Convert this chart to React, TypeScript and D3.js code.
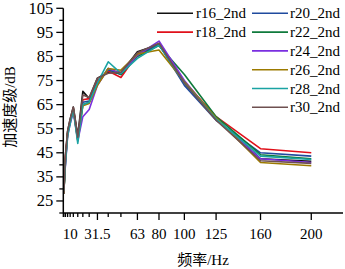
import React from "react";
import * as d3 from "d3";

const freqs = [5, 6.3, 8, 10, 12.5, 16, 20, 25, 31.5, 40, 50, 63, 80, 100, 125, 160, 200];
const tickFreqs = [4.6, 5, 6.3, 8, 10, 12.5, 16, 20, 25, 31.5, 40, 50, 63, 80, 100, 125, 160, 200];
const labeledTicks = [10, 31.5, 63, 80, 100, 125, 160, 200];
const yMajorTicks = [25, 35, 45, 55, 65, 75, 85, 95, 105];
const yMinorTicks = [20, 30, 40, 50, 60, 70, 80, 90, 100];

const seriesNames = ["r16_2nd", "r18_2nd", "r20_2nd", "r22_2nd", "r24_2nd", "r26_2nd", "r28_2nd", "r30_2nd"];
const seriesColors = ["#111111", "#e0101a", "#1f4a9e", "#0f7a3c", "#7a2fe0", "#9c7a00", "#1aa3a3", "#6e5050"];

const r16 = [28, 44, 54, 59, 64, 52, 70.5, 67.5, 76, 78.5, 78, 87, 90, 74, 59, 42.5, 41.5];
const r18 = [29, 43, 53, 58, 63.5, 51, 67, 67.5, 75, 79, 76.3, 86, 90, 74.5, 60, 46.7, 45];
const r20 = [28, 42, 53, 58, 63, 51, 66, 66.5, 74, 79.5, 77.5, 85.5, 90, 73, 58.5, 45, 43.6];
const r22 = [29, 41, 53, 58, 63, 50.5, 65, 66, 73.5, 80, 77.5, 85, 89.5, 77.5, 60, 44.2, 42.5];
const r24 = [31, 40, 52, 57, 62, 50, 60, 63, 73, 80, 78, 85.5, 91.4, 75, 59, 42.5, 41];
const r26 = [28, 42, 53, 58, 63, 50, 64.5, 65.5, 73, 80, 79.3, 86, 87.7, 74.5, 59.5, 41, 39.6];
const r28 = [29, 41, 52, 57, 63, 48.9, 65, 66, 74, 82.8, 78, 84.2, 89.7, 74, 59, 43.6, 42.2];
const r30 = [28, 44, 54, 59, 64, 51.5, 69, 68, 76, 78, 78.5, 86.5, 90.5, 74, 58.5, 41.7, 40.6];
const seriesValues = [r16, r18, r20, r22, r24, r26, r28, r30];

const W = 345;
const H = 269;
const FONT = "'Liberation Serif', 'Times New Roman', 'Noto Sans CJK SC', serif";

export default function App() {
  const x = d3.scaleLinear().domain([4.6, 225]).range([63.3, 343]);
  const y = d3.scaleLinear().domain([20, 105]).range([213, 8.3]);
  const line = d3
    .line<number>()
    .x((_, i) => x(freqs[i]))
    .y((d) => y(d));

  const axisY = y(20);
  const axisX = x(4.6);

  const legendCols = [
    { lx: 157, tx: 196, items: [0, 1] },
    { lx: 252, tx: 290, items: [2, 3, 4, 5, 6, 7] },
  ];

  return (
    <svg width={W} height={H} style={{ position: "absolute", left: 0, top: 0, background: "#fff" }} fontFamily={FONT}>
      {/* series */}
      {seriesValues.map((vals, si) => (
        <path key={si} d={line(vals) || ""} fill="none" stroke={seriesColors[si]} strokeWidth={1.6} strokeLinejoin="round" />
      ))}

      {/* axes */}
      <line x1={axisX} x2={axisX} y1={axisY} y2={y(105)} stroke="#000" strokeWidth={1.5} />
      <line x1={axisX} x2={343} y1={axisY} y2={axisY} stroke="#000" strokeWidth={1.5} />

      {yMajorTicks.map((t) => (
        <g key={"ym" + t}>
          <line x1={axisX - 7} x2={axisX} y1={y(t)} y2={y(t)} stroke="#000" strokeWidth={1.3} />
          <text x={axisX - 10} y={y(t) + 5.5} textAnchor="end" fontSize={16.5}>
            {t}
          </text>
        </g>
      ))}
      {yMinorTicks.map((t) => (
        <line key={"yn" + t} x1={axisX - 4} x2={axisX} y1={y(t)} y2={y(t)} stroke="#000" strokeWidth={1.3} />
      ))}

      {tickFreqs.map((f) => {
        const major = labeledTicks.includes(f) && f !== 10;
        return (
          <line key={"xt" + f} x1={x(f)} x2={x(f)} y1={axisY} y2={axisY + (major ? 7 : 4)} stroke="#000" strokeWidth={1.3} />
        );
      })}
      {labeledTicks.map((f) => (
        <text key={"xl" + f} x={x(f)} y={239} textAnchor="middle" fontSize={15}>
          {f}
        </text>
      ))}

      {/* axis titles */}
      <text x={203} y={265} textAnchor="middle" fontSize={15}>
        频率/Hz
      </text>
      <text transform={`translate(15, 107) rotate(-90)`} textAnchor="middle" fontSize={15}>
        加速度级/dB
      </text>

      {/* legend */}
      {legendCols.map((col, ci) =>
        col.items.map((si, ri) => {
          const cy = 13.3 + ri * 18.8;
          return (
            <g key={"lg" + ci + "_" + ri}>
              <line x1={col.lx} x2={col.lx + 36} y1={cy} y2={cy} stroke={seriesColors[si]} strokeWidth={1.6} />
              <text x={col.tx} y={cy + 5} fontSize={15}>
                {seriesNames[si]}
              </text>
            </g>
          );
        })
      )}
    </svg>
  );
}
